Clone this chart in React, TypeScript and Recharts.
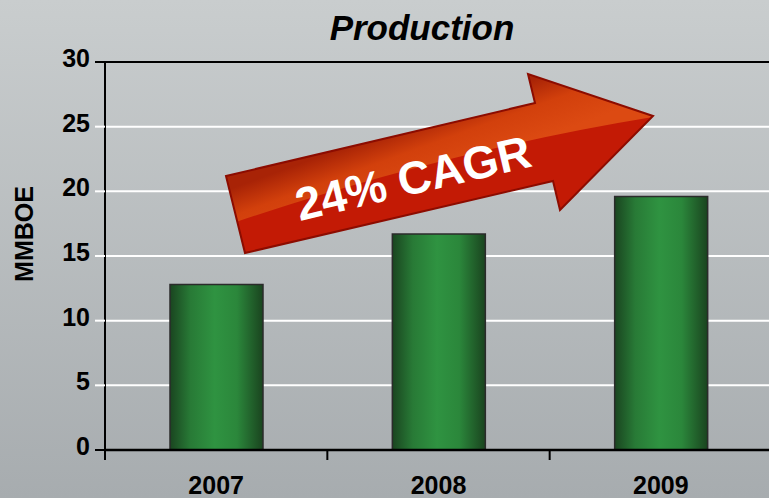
import { BarChart, Bar, XAxis, YAxis, CartesianGrid, ReferenceLine } from "recharts";

const YEARS = ["2007", "2008", "2009"];
const PRODUCTION = [12.8, 16.7, 19.6];
const Y_TICKS = [0, 5, 10, 15, 20, 25, 30];
const TITLE = "Production";
const Y_LABEL = "MMBOE";
const CAGR_LABEL = "24% CAGR";

const data = YEARS.map((year, i) => ({ year, value: PRODUCTION[i] }));

const FONT = '"Liberation Sans", Arial, Helvetica, sans-serif';

function YTick({ x, y, payload }: any) {
  const edge = payload.value === 0 || payload.value === 30;
  return (
    <g>
      <line x1={x + 5} x2={x + 15} y1={y} y2={y} stroke={edge ? "#000" : "#fff"} strokeWidth={2} />
      <text x={x} y={y} dy={5} textAnchor="end" fontSize={25} fontWeight={700} fill="#000" fontFamily={FONT}>
        {payload.value}
      </text>
    </g>
  );
}

function XTick({ x, y, payload }: any) {
  const half = payload.offset || 111.5;
  return (
    <g>
      <line x1={x - half} x2={x - half} y1={y} y2={y + 10} stroke="#000" strokeWidth={2} />
      <text x={x} y={y + 44} textAnchor="middle" fontSize={25} fontWeight={700} fill="#000" fontFamily={FONT}>
        {payload.value}
      </text>
    </g>
  );
}

export default function App() {
  return (
    <div
      style={{
        position: "absolute",
        left: 0,
        top: 0,
        width: 769,
        height: 498,
        overflow: "hidden",
        background: "linear-gradient(#c9cdce, #a7acaf)",
      }}
    >
      <BarChart width={772} height={498} data={data} margin={{ top: 62, right: 0, bottom: 0, left: 0 }}>
        <defs>
          <linearGradient id="barGrad" x1="0" y1="0" x2="1" y2="0">
            <stop offset="0%" stopColor="#1a4520" />
            <stop offset="22%" stopColor="#287a36" />
            <stop offset="48%" stopColor="#2f9341" />
            <stop offset="72%" stopColor="#2b873b" />
            <stop offset="100%" stopColor="#1a441f" />
          </linearGradient>
        </defs>
        <CartesianGrid vertical={false} stroke="#fff" strokeWidth={2} />
        <XAxis
          dataKey="year"
          height={48}
          axisLine={{ stroke: "#000", strokeWidth: 2.5 }}
          tickLine={false}
          tickSize={0}
          tickMargin={0}
          tick={<XTick />}
          interval={0}
        />
        <YAxis
          width={105}
          domain={[0, 30]}
          ticks={Y_TICKS}
          interval={0}
          axisLine={{ stroke: "#000", strokeWidth: 2 }}
          tickLine={false}
          tickSize={10}
          tickMargin={5}
          tick={<YTick />}
        />
        <ReferenceLine y={30} stroke="#000" strokeWidth={2} ifOverflow="visible" />
        <Bar dataKey="value" barSize={93} fill="url(#barGrad)" stroke="#2b2b2b" strokeWidth={1.5} isAnimationActive={false} />
      </BarChart>
      <svg
        width={769}
        height={498}
        style={{ position: "absolute", left: 0, top: 0, pointerEvents: "none" }}
      >
        <defs>
          <clipPath id="arrowClip">
            <polygon points="226,176 535,103 528,74 653,116 560,210 553,181 245,253" />
          </clipPath>
          <linearGradient id="glossGrad" gradientUnits="userSpaceOnUse" x1="420" y1="120" x2="440" y2="175">
            <stop offset="0%" stopColor="#a82306" />
            <stop offset="45%" stopColor="#d2400c" />
            <stop offset="100%" stopColor="#dc4a12" />
          </linearGradient>
        </defs>
        <text
          x={422}
          y={40}
          textAnchor="middle"
          fontSize={35}
          fontWeight={700}
          fontStyle="italic"
          fill="#000"
          fontFamily={FONT}
        >
          {TITLE}
        </text>
        <text
          x={0}
          y={0}
          transform="translate(33 234) rotate(-90)"
          textAnchor="middle"
          fontSize={25}
          fontWeight={700}
          fill="#000"
          fontFamily={FONT}
        >
          {Y_LABEL}
        </text>
        <polygon points="226,176 535,103 528,74 653,116 560,210 553,181 245,253" fill="#c31a05" />
        <g clipPath="url(#arrowClip)">
          <path d="M 200 140 L 720 20 L 720 110 L 653 117 Q 450 150 236 222 Z" fill="url(#glossGrad)" />
        </g>
        <polygon
          points="226,176 535,103 528,74 653,116 560,210 553,181 245,253"
          fill="none"
          stroke="#8c0c00"
          strokeWidth={2}
          strokeLinejoin="miter"
        />
        <text
          x={413}
          y={178}
          transform="rotate(-13.2 413 178)"
          textAnchor="middle"
          dominantBaseline="central"
          fontSize={46}
          fontWeight={700}
          fill="#fff"
          fontFamily={FONT}
        >
          {CAGR_LABEL}
        </text>
      </svg>
    </div>
  );
}
